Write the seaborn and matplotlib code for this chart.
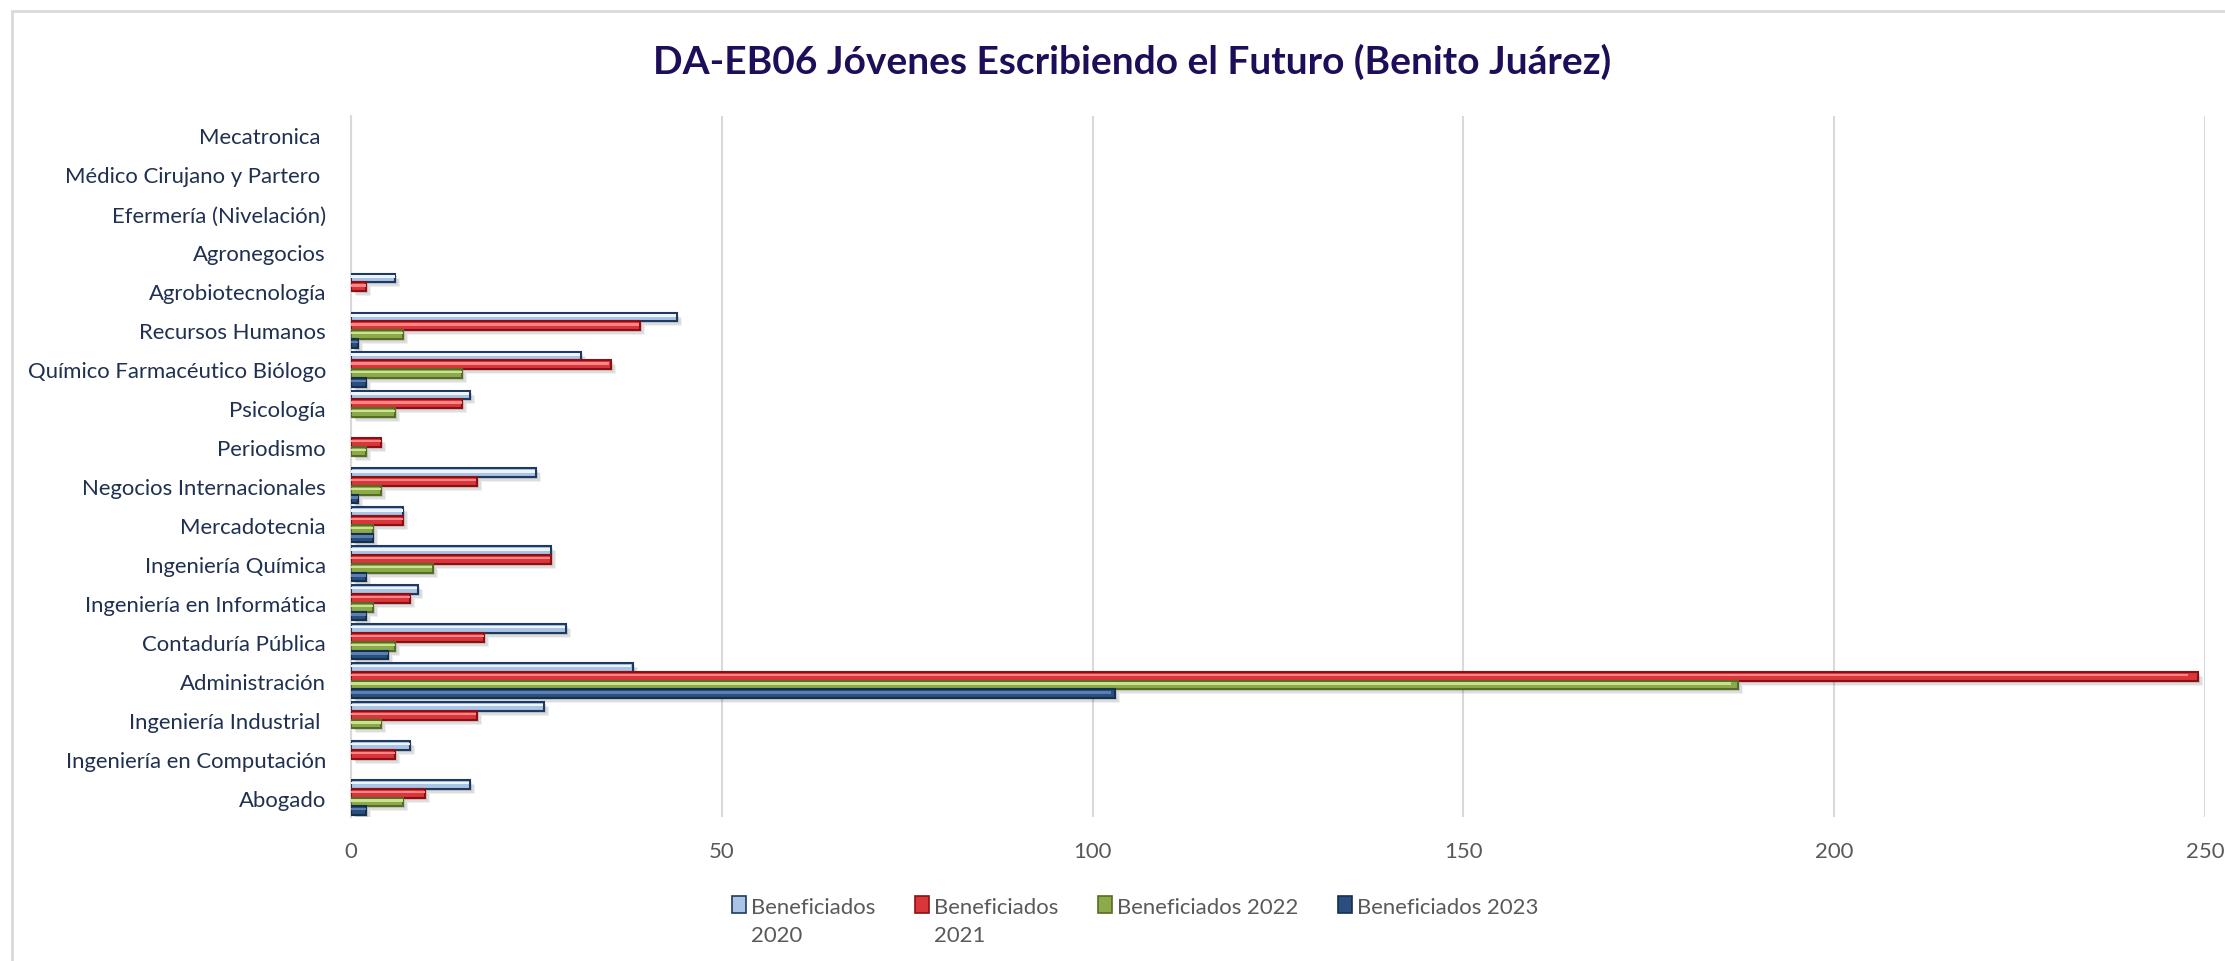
import matplotlib
matplotlib.use("Agg")
import matplotlib.pyplot as plt
import seaborn as sns
import pandas as pd
from matplotlib.patches import Rectangle
from matplotlib.transforms import ScaledTranslation
from matplotlib.legend_handler import HandlerPatch

# ---------------- data ----------------
carreras = [
    "Mecatronica ", "Médico Cirujano y Partero ", "Efermería (Nivelación)",
    "Agronegocios", "Agrobiotecnología", "Recursos Humanos",
    "Químico Farmacéutico Biólogo", "Psicología", "Periodismo",
    "Negocios Internacionales", "Mercadotecnia", "Ingeniería Química",
    "Ingeniería en Informática", "Contaduría Pública", "Administración",
    "Ingeniería Industrial ", "Ingeniería en Computación", "Abogado",
]
benef_2020 = [0, 0, 0, 0, 6, 44, 31, 16, 0, 25, 7, 27, 9, 29, 38, 26, 8, 16]
benef_2021 = [0, 0, 0, 0, 2, 39, 35, 15, 4, 17, 7, 27, 8, 18, 249, 17, 6, 10]
benef_2022 = [0, 0, 0, 0, 0, 7, 15, 6, 2, 4, 3, 11, 3, 6, 187, 4, 0, 7]
benef_2023 = [0, 0, 0, 0, 0, 1, 2, 0, 0, 1, 3, 2, 2, 5, 103, 0, 0, 2]
series = ["Beneficiados 2020", "Beneficiados 2021", "Beneficiados 2022", "Beneficiados 2023"]
legend_labels = ["Beneficiados\n2020", "Beneficiados\n2021", "Beneficiados 2022\n", "Beneficiados 2023\n"]
x_ticks = [0, 50, 100, 150, 200, 250]
titulo = "DA-EB06 Jóvenes Escribiendo el Futuro (Benito Juárez)"

# ---------------- styles ----------------
face = ["#A9C4E4", "#D8363B", "#8DAA4B", "#2A4E7E"]
light = ["#EEF4FB", "#FF8587", "#CBE293", "#5A80B0"]
edge = ["#1F3A60", "#8C0F12", "#566D25", "#15304F"]

sns.set_style("white")
plt.rcParams["font.family"] = ["Lato", "DejaVu Sans"]

long = pd.DataFrame({
    "carrera": carreras * 4,
    "valor": benef_2020 + benef_2021 + benef_2022 + benef_2023,
    "serie": sum([[s] * len(carreras) for s in series], []),
})

W, H = 2225, 962
fig = plt.figure(figsize=(W / 100, H / 100), dpi=100)
ax = fig.add_axes([351 / W, 1 - 818 / H, (2205 - 351) / W, (818 - 117) / H])

sns.barplot(data=long, x="valor", y="carrera", hue="serie", order=carreras,
            hue_order=series, palette=face, orient="h", width=0.9,
            errorbar=None, saturation=1, legend=False, ax=ax, zorder=3)

px = 1 / 100.0
for i, cont in enumerate(ax.containers):
    for bar in cont:
        w = bar.get_width()
        if w <= 0:
            bar.set_visible(False)
            continue
        bar.set_edgecolor(edge[i])
        bar.set_linewidth(1.5)
        bar.set_zorder(3)
        x0, y0, h = bar.get_x(), bar.get_y(), bar.get_height()
        # soft shadow
        for k, a in ((5, 0.06), (4, 0.08), (2, 0.10)):
            sh = Rectangle((x0, y0), w, h, facecolor="black", alpha=a, lw=0,
                           transform=ax.transData + ScaledTranslation(k * px, -k * px, fig.dpi_scale_trans),
                           zorder=2)
            ax.add_patch(sh)
        # bevel highlight
        hl = Rectangle((x0, y0 + 0.2 * h), w * 0.995, 0.28 * h, facecolor=light[i], lw=0, zorder=4)
        ax.add_patch(hl)

ax.set_xlim(x_ticks[0], x_ticks[-1])
ax.set_xticks(x_ticks)
ax.set_ylim(len(carreras) - 0.5, -0.5)
ax.xaxis.grid(True, color="#D9D9D9", lw=1.5)
ax.yaxis.grid(False)
ax.set_axisbelow(True)
for s in ["top", "right", "bottom"]:
    ax.spines[s].set_visible(False)
ax.spines["left"].set_color("#D9D9D9")
ax.spines["left"].set_linewidth(1.5)
ax.tick_params(axis="x", length=0, pad=17, labelsize=15.9, labelcolor="#595959")
ax.tick_params(axis="y", length=0, pad=18, labelsize=15.9, labelcolor="#1F3050")
ax.set_xlabel("")
ax.set_ylabel("")

fig.text(1132 / W, 1 - 62 / H, titulo, ha="center", va="center",
         fontsize=28, fontweight="bold", color="#1E0E5A")

# chart area border
fig.add_artist(Rectangle((12 / W, -0.1), 1.2, 1 - 12 / H + 0.1, transform=fig.transFigure,
                         fill=False, edgecolor="#D9D9D9", lw=2))


class TopPatchHandler(HandlerPatch):
    def __init__(self, shift=0.0, **kw):
        super().__init__(**kw)
        self.shift = shift

    def create_artists(self, legend, orig_handle, xdescent, ydescent, width, height, fontsize, trans):
        p = Rectangle((-xdescent, -ydescent + self.shift * fontsize), width, height,
                      facecolor=orig_handle.get_facecolor(), edgecolor=orig_handle.get_edgecolor(),
                      lw=orig_handle.get_linewidth(), transform=trans)
        return [p]


handles = [Rectangle((0, 0), 1, 1, facecolor=face[i], edgecolor=edge[i], lw=1.2) for i in range(4)]
hmap = {h: TopPatchHandler(shift=0.75) for h in handles}
leg = fig.legend(handles, legend_labels, handler_map=hmap, loc="upper center",
                 bbox_to_anchor=(1135 / W, 1 - 878 / H), ncol=4, frameon=False,
                 fontsize=15.9, labelcolor="#595959", handlelength=0.65, handleheight=0.8,
                 handletextpad=0.2, columnspacing=1.8)
for t in leg.get_texts():
    t.set_linespacing(1.5)

fig.savefig("out.png", dpi=100, facecolor="white")
